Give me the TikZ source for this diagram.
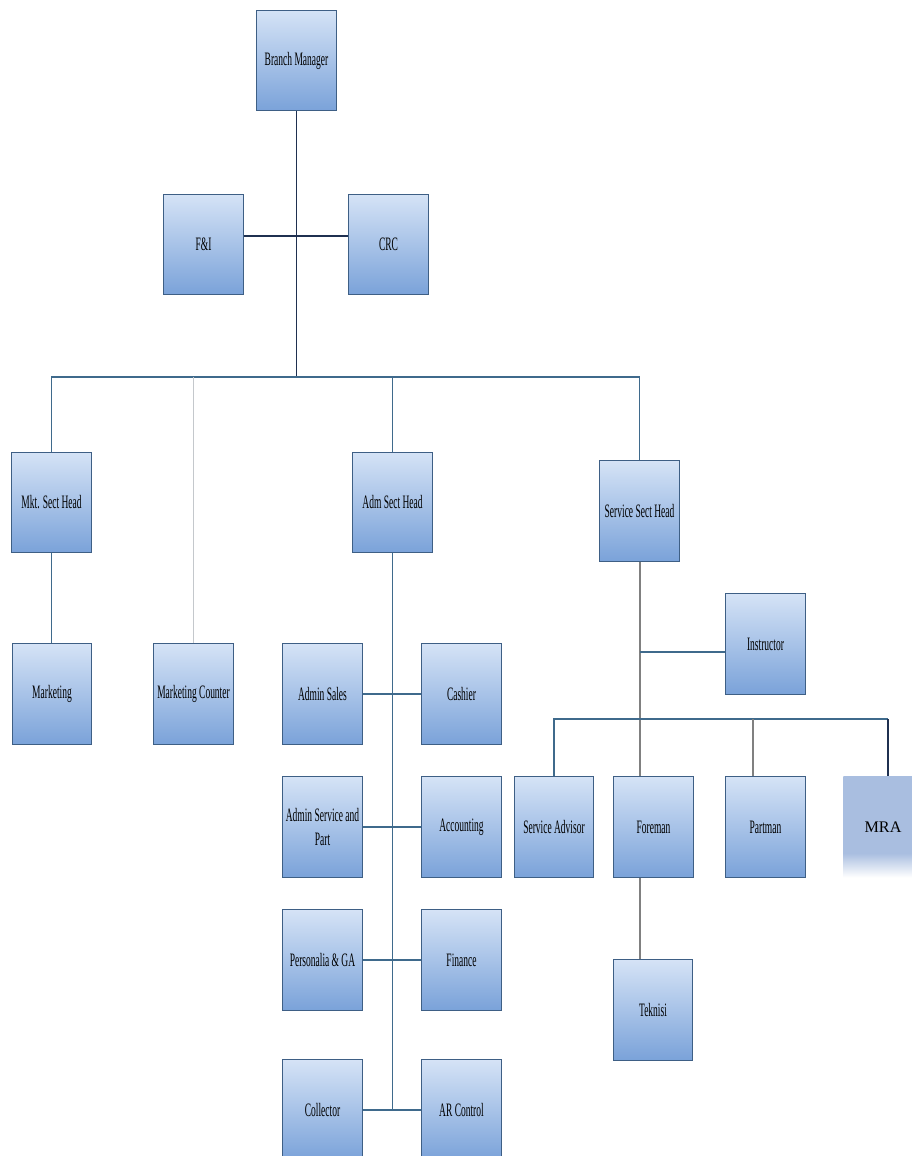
\documentclass[tikz,border=0pt]{standalone}
\usepackage{fontspec}
\usepackage{xcolor}
\usepackage{tikz}
\newfontfamily\boxfont[FakeStretch=0.5]{Liberation Serif}
\newfontfamily\mrafont{Liberation Serif}
\definecolor{boxtop}{HTML}{D5E3F6}
\definecolor{boxbottom}{HTML}{7AA2D9}
\definecolor{boxedge}{HTML}{3E5F85}
\definecolor{mrablue}{HTML}{A9BEE0}
\definecolor{linkblue}{HTML}{3F6A8C}
\definecolor{linknavy}{HTML}{1F3050}
\definecolor{linkgray}{HTML}{C4C8CC}
\pgfdeclareverticalshading{mrafade}{100bp}{color(0bp)=(white); color(25bp)=(white); color(37bp)=(mrablue); color(100bp)=(mrablue)}

\begin{document}
\begin{tikzpicture}[x=0.025cm,y=-0.025cm]
		\tikzstyle{every node}=[font=\boxfont\fontsize{13.5}{17}\selectfont]
		\tikzstyle{unit}=[draw=boxedge, line width=0.6pt, top color=boxtop, bottom color=boxbottom, minimum width=1.98cm, minimum height=2.52cm, inner sep=1pt, align=center]
		\tikzstyle{mrabox}=[shading=mrafade, minimum width=1.98cm, minimum height=2.52cm, font=\mrafont\fontsize{11.5}{14}\selectfont]
		\tikzstyle{link}=[draw=linkblue, line width=0.9pt]

		\clip (0,0) rectangle (912,1156);

		\node [unit] (bm) at (296.5,60.5) {Branch Manager};
		\node [unit] (fi) at (203.5,244.5) {F\&I};
		\node [unit] (crc) at (388.5,244.5) {CRC};
		\node [unit] (mkthead) at (51.5,502.5) {Mkt. Sect Head};
		\node [unit] (admhead) at (392.5,502.5) {Adm Sect Head};
		\node [unit] (svchead) at (639.5,511) {Service Sect Head};
		\node [unit] (mkt) at (52,694) {Marketing};
		\node [unit] (mktcounter) at (193.5,694) {Marketing Counter};
		\node [unit] (adminsales) at (322.5,694) {Admin Sales};
		\node [unit] (cashier) at (461.5,694) {Cashier};
		\node [unit] (adminsvc) at (322.5,827) {Admin Service and\\Part};
		\node [unit] (accounting) at (461.5,827) {Accounting};
		\node [unit] (personalia) at (322.5,960) {Personalia \& GA};
		\node [unit] (finance) at (461.5,960) {Finance};
		\node [unit] (collector) at (322.5,1110) {Collector};
		\node [unit] (arcontrol) at (461.5,1110) {AR Control};
		\node [unit] (instructor) at (765.5,644) {Instructor};
		\node [unit] (svcadvisor) at (554,827) {Service Advisor};
		\node [unit] (foreman) at (653.5,827) {Foreman};
		\node [unit] (partman) at (765.5,827) {Partman};
		\node [mrabox] (mra) at (883,827) {MRA};
		\node [unit] (teknisi) at (653,1010) {Teknisi};

		\coordinate (bus) at (296.5,377);
		\coordinate (fijoin) at (296.5,236);
		\coordinate (svcbus) at (640,719);
		\coordinate (instrjoin) at (640,652);
		\coordinate (partjoin) at (753,719);
		\coordinate (mrajoin) at (888,719);

		\draw [link, draw=linknavy] (bm.south) to (bm.south |- bus);
		\draw [link, draw=linknavy] (fijoin -| fi.east) to (fijoin -| crc.west);
		\draw [link] (mkthead.north) |- (bus) -| (svchead.north);
		\draw [link] (admhead.north) to (admhead.north |- bus);
		\draw [link, draw=linkgray] (mktcounter.north) to (mktcounter.north |- bus);
		\draw [link] (mkthead.south) to (mkthead.south |- mkt.north);
		\draw [link] (admhead.south) to (admhead.south |- collector);
		\draw [link] (adminsales) to (cashier);
		\draw [link] (adminsvc) to (accounting);
		\draw [link] (personalia) to (finance);
		\draw [link] (collector) to (arcontrol);
		\draw [link, draw=gray] (svchead.south -| svcbus) to (foreman.north -| svcbus);
		\draw [link] (instrjoin) to (instrjoin -| instructor.west);
		\draw [link] (svcadvisor.north) |- (mrajoin);
		\draw [link, draw=linknavy] (mrajoin) to (mrajoin |- mra.north);
		\draw [link, draw=gray] (partjoin) to (partjoin |- partman.north);
		\draw [link, draw=gray] (foreman.south -| svcbus) to (teknisi.north -| svcbus);

	\end{tikzpicture}
\end{document}
